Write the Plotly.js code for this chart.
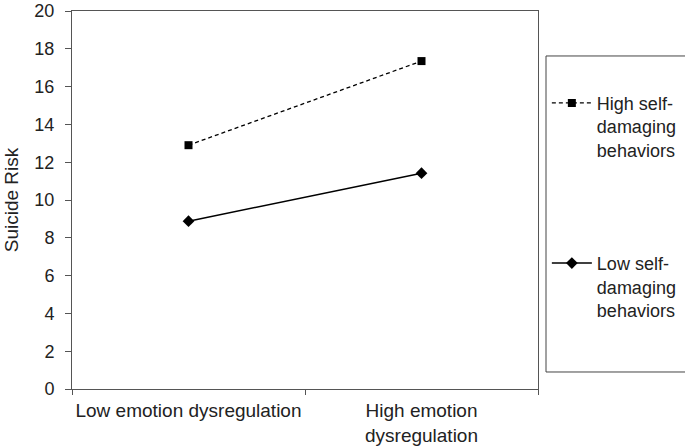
<!DOCTYPE html>
<html>
<head>
<meta charset="utf-8">
<script src="https://cdn.plot.ly/plotly-3.0.1.min.js"></script>
<style>html,body{margin:0;padding:0;background:#fff}#chart{width:685px;height:448px}</style>
</head>
<body>
<div id="chart"></div>
<script>
const categories = ["Low emotion dysregulation", "High emotion<br>dysregulation"];
const highSelfDamaging = [12.9, 17.35];
const lowSelfDamaging = [8.88, 11.42];
const seriesNames = ["High self-<br>damaging<br>behaviors", "Low self-<br>damaging<br>behaviors"];
const yTicks = [0, 2, 4, 6, 8, 10, 12, 14, 16, 18, 20];

const FONT = "Liberation Sans, Arial, sans-serif";
const traces = [
  {
    x: categories, y: highSelfDamaging, name: seriesNames[0], legendgroup: "a",
    type: "scatter", mode: "lines+markers",
    line: {color: "#000", width: 1.3, dash: "4px,3px"},
    marker: {symbol: "square", size: 8, color: "#000"}
  },
  {
    x: categories, y: lowSelfDamaging, name: seriesNames[1], legendgroup: "b",
    type: "scatter", mode: "lines+markers",
    line: {color: "#000", width: 1.5},
    marker: {symbol: "diamond", size: 9, color: "#000"}
  }
];

const layout = {
  width: 685, height: 448,
  margin: {l: 72, r: 147, t: 11, b: 59, autoexpand: false},
  paper_bgcolor: "#fff", plot_bgcolor: "#fff",
  font: {family: FONT, color: "#222", size: 18},
  showlegend: true,
  legend: {
    x: 1.019, xanchor: "left", y: 0.805, yanchor: "top",
    bgcolor: "rgba(0,0,0,0)", borderwidth: 0,
    font: {family: FONT, size: 18, color: "#222"},
    valign: "top", tracegroupgap: 87, itemwidth: 40
  },
  xaxis: {
    type: "category", tickson: "boundaries", range: [-0.5, 1.5],
    showline: true, linecolor: "#555", linewidth: 1, mirror: true,
    ticks: "outside", ticklen: 5, tickcolor: "#555", tickangle: 0,
    showgrid: false, zeroline: false, ticklabelstandoff: 4,
    tickfont: {family: FONT, size: 19, color: "#222"}
  },
  yaxis: {
    range: [0, 20], tickvals: yTicks,
    showline: true, linecolor: "#555", linewidth: 1, mirror: true,
    ticks: "outside", ticklen: 6, tickcolor: "#555",
    showgrid: false, zeroline: false, ticklabelstandoff: 7,
    tickfont: {family: FONT, size: 18, color: "#222"},
    title: {text: "Suicide Risk", font: {family: FONT, size: 19, color: "#222"}, standoff: 10}
  },
  shapes: [
    {type: "rect", xref: "paper", yref: "paper", x0: 1.0172, x1: 1.4, y0: 0.045, y1: 0.881,
     line: {color: "#444", width: 1}, fillcolor: "rgba(0,0,0,0)"}
  ]
};

Plotly.newPlot("chart", traces, layout, {displayModeBar: false, staticPlot: true});
</script>
</body>
</html>
